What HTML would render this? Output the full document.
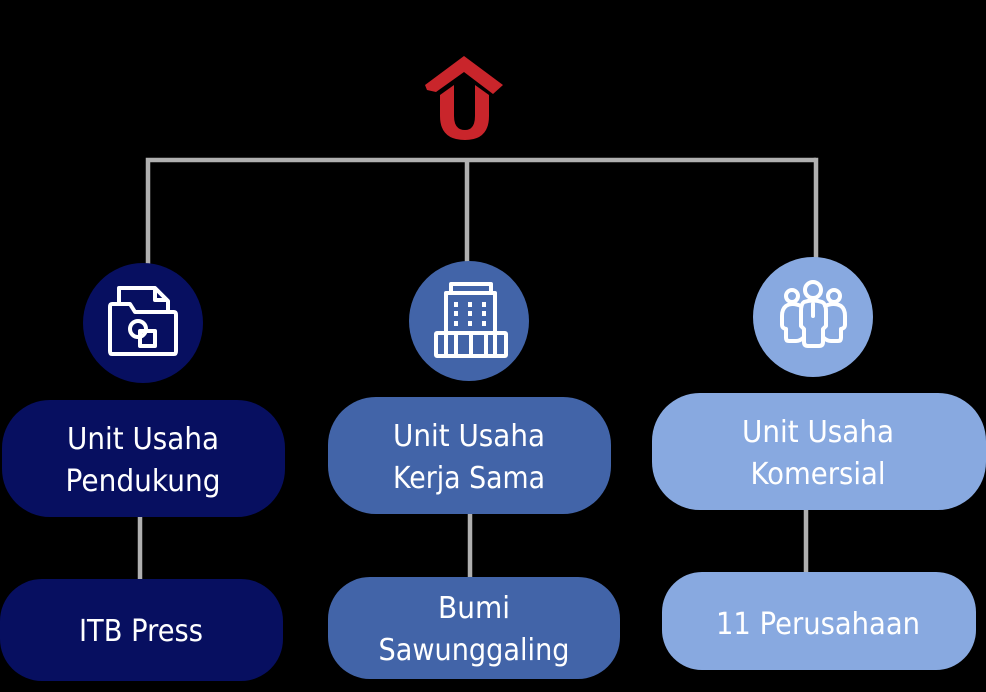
<!DOCTYPE html>
<html>
<head>
<meta charset="utf-8">
<style>
html,body{margin:0;padding:0;background:#000;width:986px;height:692px;overflow:hidden}
svg{display:block}
text{font-family:"DejaVu Sans",sans-serif;font-size:30px;fill:#fff;text-anchor:middle}
</style>
</head>
<body>
<svg width="986" height="692" viewBox="0 0 986 692" xmlns="http://www.w3.org/2000/svg">
<rect width="986" height="692" fill="#000"/>

<!-- logo -->
<path d="M425 85 L464 56 L503 85 L493 94 L464 72 L436 92 L427 90 Z" fill="#c9252b"/>
<path d="M440 95 L454 85 L454 116 Q454 130 465 130 Q475 130 475 116 L475 85 L489 95 L489 116 Q489 140 465 140 Q440 140 440 116 Z" fill="#c9252b"/>

<!-- connectors -->
<g stroke="#b0b0b0" stroke-width="4.5" fill="none" stroke-linecap="butt">
<path d="M148 264 V160 H816"/>
<path d="M467 160 V262"/>
<path d="M816 157.75 V258"/>
<path d="M140 517 V579"/>
<path d="M470 514 V577"/>
<path d="M806 510 V572"/>
</g>

<!-- circles -->
<circle cx="143" cy="323" r="60" fill="#070f60"/>
<circle cx="469" cy="321" r="60" fill="#4264a8"/>
<circle cx="813" cy="317" r="60" fill="#88a9e0"/>

<!-- folder icon -->
<g stroke="#fff" stroke-width="4" fill="none" stroke-linejoin="round">
<path d="M119 304 V288 H155 L168 301 V312"/>
<path d="M155 288 V300 H168"/>
<path d="M112 304 H130 L135 312 H174 Q176 312 176 315 V351 Q176 354 174 354 H112 Q110 354 110 351 V307 Q110 304 112 304 Z"/>
<circle cx="138" cy="329" r="8"/>
<rect x="140" y="331" width="15" height="15"/>
</g>

<!-- building icon -->
<g stroke="#fff" stroke-width="4" fill="none" stroke-linejoin="round">
<path d="M451 293 V284 H491 V293"/>
<path d="M446 331 V293 H495 V331"/>
<rect x="436" y="333" width="70" height="23" rx="1"/>
<path d="M446 333 V356 M495 333 V356"/>
<path d="M456 356 V333 H486 V356 M471 333 V356"/>
</g>
<g fill="#fff">
<rect x="454" y="302" width="4" height="5"/><rect x="468" y="302" width="4" height="5"/><rect x="482" y="302" width="4" height="5"/>
<rect x="454" y="311" width="4" height="5"/><rect x="468" y="311" width="4" height="5"/><rect x="482" y="311" width="4" height="5"/>
<rect x="454" y="321" width="4" height="5"/><rect x="468" y="321" width="4" height="5"/><rect x="482" y="321" width="4" height="5"/>
</g>

<!-- people icon -->
<g stroke="#fff" stroke-width="4" fill="none" stroke-linejoin="round" stroke-linecap="round">
<circle cx="813" cy="290" r="8"/>
<circle cx="792" cy="296" r="6"/>
<circle cx="834" cy="296" r="6"/>
<path d="M804 302 Q813 299 822 302 Q826 304 826 311 V326 L823 329 V342 Q823 346 819 346 H808 Q804 346 804 342 V329 L801 326 V311 Q801 304 804 302 Z"/>
<path d="M801 306 Q792 302 786 306 Q782 309 782 316 V325 Q782 328 786 329 V338 Q786 341 789 341 H796 Q800 341 803 338"/>
<path d="M825 306 Q834 302 841 306 Q845 309 845 316 V325 Q845 328 841 329 V338 Q841 341 838 341 H831 Q827 341 824 338"/>
<path d="M813 304 V316"/>
</g>

<!-- pills -->
<rect x="2" y="400" width="283" height="117" rx="48" fill="#070f60"/>
<rect x="328" y="397" width="283" height="117" rx="48" fill="#4264a8"/>
<rect x="652" y="393" width="334" height="117" rx="48" fill="#88a9e0"/>
<rect x="0" y="579" width="283" height="102" rx="42" fill="#070f60"/>
<rect x="328" y="577" width="292" height="102" rx="42" fill="#4264a8"/>
<rect x="662" y="572" width="314" height="98" rx="40" fill="#88a9e0"/>

<!-- labels -->
<text x="143" y="449" textLength="152" lengthAdjust="spacingAndGlyphs">Unit Usaha</text>
<text x="143" y="491" textLength="155" lengthAdjust="spacingAndGlyphs">Pendukung</text>
<text x="469" y="446" textLength="152" lengthAdjust="spacingAndGlyphs">Unit Usaha</text>
<text x="469" y="488" textLength="152" lengthAdjust="spacingAndGlyphs">Kerja Sama</text>
<text x="818" y="442" textLength="152" lengthAdjust="spacingAndGlyphs">Unit Usaha</text>
<text x="818" y="484" textLength="135" lengthAdjust="spacingAndGlyphs">Komersial</text>
<text x="141" y="641" textLength="124" lengthAdjust="spacingAndGlyphs">ITB Press</text>
<text x="474" y="618" textLength="72" lengthAdjust="spacingAndGlyphs">Bumi</text>
<text x="474" y="660" textLength="191" lengthAdjust="spacingAndGlyphs">Sawunggaling</text>
<text x="818" y="634" textLength="204" lengthAdjust="spacingAndGlyphs">11 Perusahaan</text>
</svg>
</body>
</html>
